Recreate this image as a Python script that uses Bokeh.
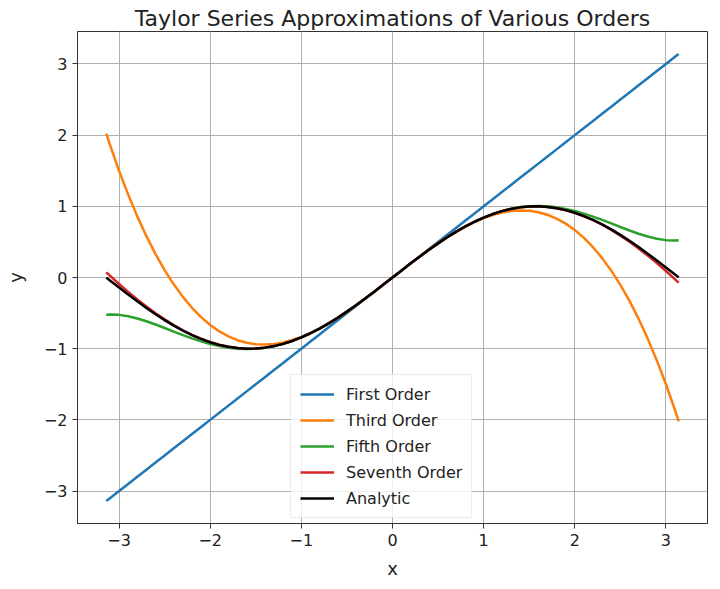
from bokeh.plotting import figure
from bokeh.models import Range1d, FixedTicker, Legend, LegendItem
from bokeh.embed import file_html
from bokeh.resources import INLINE

# Sample positions
x_vals = [-3.14, -3.1, -3.0, -2.9, -2.8, -2.7, -2.6, -2.5, -2.4, -2.3, -2.2, -2.1, -2.0,
          -1.9, -1.8, -1.7, -1.6, -1.5, -1.4, -1.3, -1.2, -1.1, -1.0, -0.9, -0.8, -0.7,
          -0.6, -0.5, -0.4, -0.3, -0.2, -0.1,
          0.0, 0.1, 0.2, 0.3, 0.4, 0.5, 0.6, 0.7, 0.8, 0.9, 1.0, 1.1, 1.2, 1.3, 1.4, 1.5,
          1.6, 1.7, 1.8, 1.9, 2.0, 2.1, 2.2, 2.3, 2.4, 2.5, 2.6, 2.7, 2.8, 2.9, 3.0, 3.1, 3.14]

first_order = [-3.14, -3.1, -3.0, -2.9, -2.8, -2.7, -2.6, -2.5, -2.4, -2.3, -2.2, -2.1, -2.0,
               -1.9, -1.8, -1.7, -1.6, -1.5, -1.4, -1.3, -1.2, -1.1, -1.0, -0.9, -0.8, -0.7,
               -0.6, -0.5, -0.4, -0.3, -0.2, -0.1,
               0.0, 0.1, 0.2, 0.3, 0.4, 0.5, 0.6, 0.7, 0.8, 0.9, 1.0, 1.1, 1.2, 1.3, 1.4, 1.5,
               1.6, 1.7, 1.8, 1.9, 2.0, 2.1, 2.2, 2.3, 2.4, 2.5, 2.6, 2.7, 2.8, 2.9, 3.0, 3.1, 3.14]

third_order = [2.0198, 1.8652, 1.5000, 1.1648, 0.8587, 0.5805, 0.3293, 0.1042, -0.0960,
               -0.2722, -0.4253, -0.5565, -0.6667, -0.7568, -0.8280, -0.8812, -0.9173,
               -0.9375, -0.9427, -0.9338, -0.9120, -0.8782, -0.8333, -0.7785, -0.7147,
               -0.6428, -0.5640, -0.4792, -0.3893, -0.2955, -0.1987, -0.0998,
               0.0, 0.0998, 0.1987, 0.2955, 0.3893, 0.4792, 0.5640, 0.6428, 0.7147, 0.7785,
               0.8333, 0.8782, 0.9120, 0.9338, 0.9427, 0.9375, 0.9173, 0.8812, 0.8280,
               0.7568, 0.6667, 0.5565, 0.4253, 0.2722, 0.0960, -0.1042, -0.3293, -0.5805,
               -0.8587, -1.1648, -1.5000, -1.8652, -2.0198]

fifth_order = [-0.5239, -0.5206, -0.5250, -0.5445, -0.5755, -0.6153, -0.6608, -0.7096,
               -0.7596, -0.8086, -0.8548, -0.8968, -0.9333, -0.9631, -0.9855, -0.9995,
               -1.0047, -1.0008, -0.9875, -0.9648, -0.9327, -0.8916, -0.8417, -0.7834,
               -0.7174, -0.6442, -0.5646, -0.4794, -0.3894, -0.2955, -0.1987, -0.0998,
               0.0, 0.0998, 0.1987, 0.2955, 0.3894, 0.4794, 0.5646, 0.6442, 0.7174, 0.7834,
               0.8417, 0.8916, 0.9327, 0.9648, 0.9875, 1.0008, 1.0047, 0.9995, 0.9855,
               0.9631, 0.9333, 0.8968, 0.8548, 0.8086, 0.7596, 0.7096, 0.6608, 0.6153,
               0.5755, 0.5445, 0.5250, 0.5206, 0.5239]

seventh_order = [0.0732, 0.0253, -0.0911, -0.2022, -0.3078, -0.4078, -0.5014, -0.5885,
                 -0.6686, -0.7410, -0.8053, -0.8611, -0.9079, -0.9454, -0.9734, -0.9914,
                 -0.9994, -0.9974, -0.9854, -0.9636, -0.9320, -0.8912, -0.8415, -0.7833,
                 -0.7174, -0.6442, -0.5646, -0.4794, -0.3894, -0.2955, -0.1987, -0.0998,
                 0.0, 0.0998, 0.1987, 0.2955, 0.3894, 0.4794, 0.5646, 0.6442, 0.7174, 0.7833,
                 0.8415, 0.8912, 0.9320, 0.9636, 0.9854, 0.9974, 0.9994, 0.9914, 0.9734,
                 0.9454, 0.9079, 0.8611, 0.8053, 0.7410, 0.6686, 0.5885, 0.5014, 0.4078,
                 0.3078, 0.2022, 0.0911, -0.0253, -0.0732]

analytic = [-0.0016, -0.0416, -0.1411, -0.2392, -0.3350, -0.4274, -0.5155, -0.5985,
            -0.6755, -0.7457, -0.8085, -0.8632, -0.9093, -0.9463, -0.9738, -0.9917,
            -0.9996, -0.9975, -0.9854, -0.9636, -0.9320, -0.8912, -0.8415, -0.7833,
            -0.7174, -0.6442, -0.5646, -0.4794, -0.3894, -0.2955, -0.1987, -0.0998,
            0.0, 0.0998, 0.1987, 0.2955, 0.3894, 0.4794, 0.5646, 0.6442, 0.7174, 0.7833,
            0.8415, 0.8912, 0.9320, 0.9636, 0.9854, 0.9975, 0.9996, 0.9917, 0.9738,
            0.9463, 0.9093, 0.8632, 0.8085, 0.7457, 0.6755, 0.5985, 0.5155, 0.4274,
            0.3350, 0.2392, 0.1411, 0.0416, 0.0016]

series_names = ["First Order", "Third Order", "Fifth Order", "Seventh Order", "Analytic"]
series_colors = ["#1f77b4", "#ff7f0e", "#2ca02c", "#d62728", "#000000"]
tick_values = [-3, -2, -1, 0, 1, 2, 3]
tick_labels = {-3: "\u22123", -2: "\u22122", -1: "\u22121", 0: "0", 1: "1", 2: "2", 3: "3"}

FONT = "DejaVu Sans"

p = figure(width=712, height=581, output_backend="svg", toolbar_location=None,
           x_range=Range1d(-3.456, 3.456), y_range=Range1d(-3.456, 3.456),
           min_border_left=77, min_border_right=5, min_border_top=31, min_border_bottom=58)

p.title.text = "Taylor Series Approximations of Various Orders"
p.title.align = "center"
p.title.text_font = FONT
p.title.text_font_size = "22px"
p.title.text_font_style = "normal"
p.title.text_color = "#222222"
p.title.standoff = 2

renderers = []
for ys, c in zip([first_order, third_order, fifth_order, seventh_order, analytic], series_colors):
    r = p.line(x_vals, ys, line_color=c, line_width=2.5)
    renderers.append(r)

legend = Legend(items=[LegendItem(label=n, renderers=[r]) for n, r in zip(series_names, renderers)],
                location=(213, 5), margin=0, padding=9, spacing=6,
                glyph_width=34, glyph_height=20, label_height=20, label_standoff=12,
                label_text_font=FONT, label_text_font_size="16px", label_text_color="#222222",
                border_line_color="#d8d8d8", border_line_width=1,
                background_fill_color="white", background_fill_alpha=0.8)
p.add_layout(legend, "center")

for ax, lab in [(p.xaxis, "x"), (p.yaxis, "y")]:
    ax.ticker = FixedTicker(ticks=tick_values)
    ax.major_label_overrides = tick_labels
    ax.axis_label = lab
    ax.axis_label_text_font = FONT
    ax.axis_label_text_font_size = "18px"
    ax.axis_label_text_font_style = "normal"
    ax.axis_label_text_color = "#222222"
    ax.major_label_text_font = FONT
    ax.major_label_text_font_size = "16px"
    ax.major_label_text_color = "#222222"
    ax.major_tick_in = 0
    ax.major_tick_out = 5
    ax.major_label_standoff = 5
    ax.minor_tick_line_color = None
    ax.axis_line_color = "#333333"
    ax.major_tick_line_color = "#333333"

p.xaxis.axis_label_standoff = 9
p.yaxis.axis_label_standoff = 15

p.grid.grid_line_color = "#b0b0b0"
p.grid.grid_line_width = 1
p.outline_line_color = "#333333"
p.outline_line_width = 1
p.background_fill_color = "white"
p.border_fill_color = "white"

open("out.html", "w").write(file_html(p, INLINE))
